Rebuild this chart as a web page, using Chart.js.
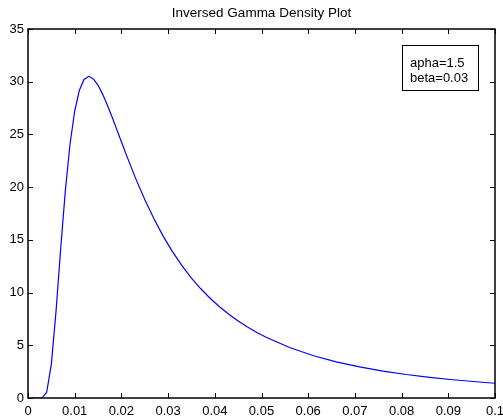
<!DOCTYPE html>
<html>
<head>
<meta charset="utf-8">
<script src="https://cdn.jsdelivr.net/npm/chart.js@4.4.0/dist/chart.umd.min.js"></script>
<style>
    html, body { margin: 0; padding: 0; background: #fff; }
    #wrap { width: 503px; height: 416px; }
</style>
</head>
<body>
<div id="wrap"><canvas id="densityChart" width="503" height="416"></canvas></div>
<script>
// 그래프 데이터 (x: 0.001 간격, 꼬리 부분은 간격을 넓힘)
const xValues = [
    0.001, 0.002, 0.003, 0.004, 0.005, 0.006, 0.007, 0.008, 0.009, 0.010,
    0.011, 0.012, 0.013, 0.014, 0.015, 0.016, 0.017, 0.018, 0.019, 0.020,
    0.021, 0.023, 0.025, 0.027, 0.029, 0.031, 0.033, 0.035, 0.037, 0.039,
    0.041, 0.043, 0.045, 0.047, 0.049, 0.051, 0.056, 0.061, 0.066, 0.071,
    0.076, 0.081, 0.086, 0.091, 0.096, 0.100
];
const densityValues = [
    0.00, 0.00, 0.01, 0.54, 3.21, 8.22, 14.17, 19.69, 24.09, 27.22,
    29.19, 30.21, 30.51, 30.27, 29.66, 28.80, 27.77, 26.65, 25.48, 24.30,
    23.13, 20.88, 18.83, 16.97, 15.31, 13.84, 12.53, 11.38, 10.36, 9.46,
    8.66, 7.94, 7.30, 6.73, 6.22, 5.76, 4.79, 4.03, 3.43, 2.95,
    2.55, 2.23, 1.96, 1.73, 1.54, 1.40
];

// 축 눈금
const xTicks = [0, 0.01, 0.02, 0.03, 0.04, 0.05, 0.06, 0.07, 0.08, 0.09, 0.1];
const yTicks = [0, 5, 10, 15, 20, 25, 30, 35];

const chartTitle = 'Inversed Gamma Density Plot';
const legendLines = ['apha=1.5', 'beta=0.03'];

const FONT_FAMILY = "'Liberation Sans', Arial, Helvetica, sans-serif";

/**
 * 축 테두리와 안쪽 눈금, 파라미터 박스를 그리는 플러그인
 */
const boxAxesPlugin = {
    id: 'boxAxes',
    afterDraw(chart) {
        const {ctx, chartArea: {left, right, top, bottom}, scales: {x, y}} = chart;
        const tick = 5;
        ctx.save();
        ctx.strokeStyle = '#000';
        ctx.lineWidth = 1;

        // 눈금 (상하좌우 모두 안쪽으로)
        ctx.beginPath();
        x.ticks.forEach(t => {
            const px = Math.round(x.getPixelForValue(t.value)) + 0.5;
            ctx.moveTo(px, bottom);
            ctx.lineTo(px, bottom - tick);
            ctx.moveTo(px, top);
            ctx.lineTo(px, top + tick);
        });
        y.ticks.forEach(t => {
            const py = Math.round(y.getPixelForValue(t.value)) + 0.5;
            ctx.moveTo(left, py);
            ctx.lineTo(left + tick, py);
            ctx.moveTo(right, py);
            ctx.lineTo(right - tick, py);
        });
        ctx.stroke();

        // 테두리
        ctx.lineWidth = 1.5;
        ctx.strokeRect(left, top, right - left, bottom - top);

        // 파라미터 박스
        const bx = 402.5, by = 45.5, bw = 76, bh = 45;
        ctx.fillStyle = '#fff';
        ctx.fillRect(bx, by, bw, bh);
        ctx.lineWidth = 1;
        ctx.strokeRect(bx, by, bw, bh);
        ctx.fillStyle = '#000';
        ctx.font = '13px ' + FONT_FAMILY;
        ctx.textAlign = 'left';
        ctx.textBaseline = 'alphabetic';
        legendLines.forEach((line, i) => {
            ctx.fillText(line, 410, 67 + i * 14.5);
        });
        ctx.restore();
    }
};

function formatTick(value) {
    return String(Number(value.toFixed(3)));
}

function createDensityChart(id) {
    Chart.defaults.font.family = FONT_FAMILY;
    Chart.defaults.color = '#000';

    return new Chart(document.getElementById(id).getContext('2d'), {
        type: 'line',
        data: {
            datasets: [{
                data: xValues.map((v, i) => ({x: v, y: densityValues[i]})),
                borderColor: 'rgb(0, 0, 255)',
                borderWidth: 1.2,
                pointRadius: 0,
                tension: 0,
                fill: false
            }]
        },
        options: {
            responsive: false,
            animation: false,
            events: [],
            layout: {
                padding: {top: 0, right: 8, bottom: 0, left: 0}
            },
            scales: {
                x: {
                    type: 'linear',
                    min: 0,
                    max: 0.1,
                    grid: {display: false, drawTicks: false},
                    border: {display: false},
                    afterBuildTicks(scale) {
                        scale.ticks = xTicks.map(v => ({value: v}));
                    },
                    afterFit(scale) {
                        scale.height = 18;
                        scale.paddingLeft = 0;
                        scale.paddingRight = 0;
                    },
                    ticks: {
                        padding: 6,
                        maxRotation: 0,
                        autoSkip: false,
                        font: {size: 13},
                        callback: formatTick
                    }
                },
                y: {
                    type: 'linear',
                    min: 0,
                    max: 35,
                    grid: {display: false, drawTicks: false},
                    border: {display: false},
                    afterBuildTicks(scale) {
                        scale.ticks = yTicks.map(v => ({value: v}));
                    },
                    afterFit(scale) {
                        scale.width = 28;
                        scale.paddingTop = 0;
                        scale.paddingBottom = 0;
                    },
                    ticks: {
                        padding: 4,
                        autoSkip: false,
                        font: {size: 13},
                        callback: formatTick
                    }
                }
            },
            plugins: {
                legend: {display: false},
                tooltip: {enabled: false},
                title: {
                    display: true,
                    text: chartTitle,
                    fullSize: false,
                    color: '#000',
                    font: {size: 13.5, weight: 'normal', lineHeight: 1.2},
                    padding: {top: 5.5, bottom: 7.3}
                }
            }
        },
        plugins: [boxAxesPlugin]
    });
}

createDensityChart('densityChart');
</script>
</body>
</html>
